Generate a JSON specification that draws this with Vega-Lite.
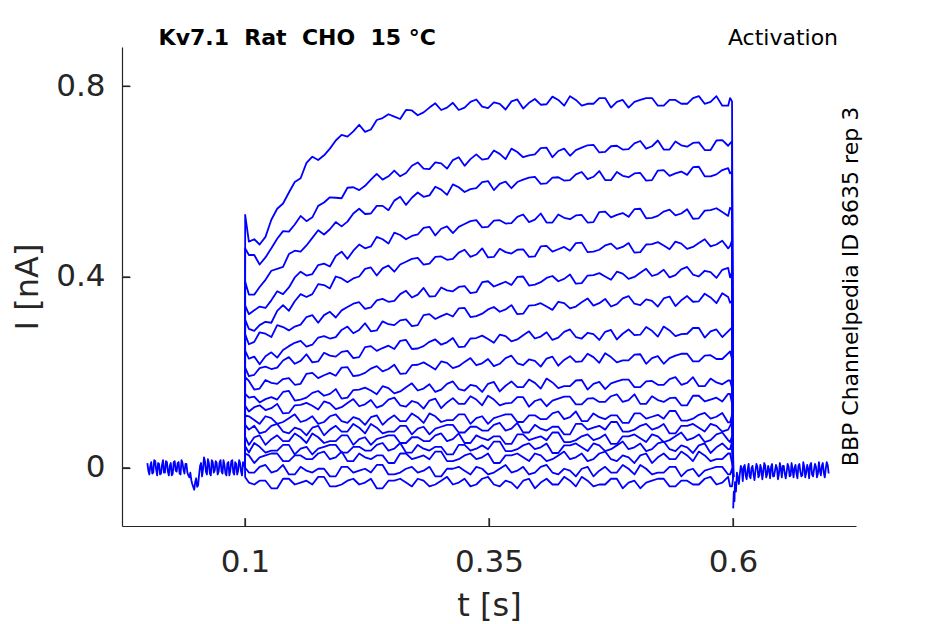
{
  "$schema": "https://vega.github.io/schema/vega-lite/v6.json",
  "description": "Kv7.1 activation current traces",
  "width": 734,
  "height": 479,
  "autosize": {"type": "none"},
  "padding": {"left": 122, "top": 47, "right": 89, "bottom": 98},
  "background": "white",
  "encoding": {
    "x": {
      "field": "t", "type": "quantitative",
      "scale": {"domain": [-0.026, 0.726], "nice": false, "zero": false},
      "axis": {"values": [0.1, 0.35, 0.6], "labelExpr": "'' + datum.value", "title": "t [s]", "labelPadding": 29, "titleBaseline": "alphabetic", "titleY": 89}
    },
    "y": {
      "field": "i", "type": "quantitative",
      "scale": {"domain": [-0.122, 0.882], "nice": false, "zero": false},
      "axis": {"values": [0, 0.4, 0.8], "labelExpr": "'' + datum.value", "title": "I [nA]", "labelPadding": 25, "titleBaseline": "alphabetic", "titleX": -85}
    }
  },
  "layer": [
    {
      "data": {"values": [
        {"s":0,"t":0.000,"i":0.010},{"s":0,"t":0.002,"i":-0.014},{"s":0,"t":0.004,"i":0.012},{"s":0,"t":0.006,"i":-0.010},{"s":0,"t":0.008,"i":0.014},{"s":0,"t":0.010,"i":-0.016},{"s":0,"t":0.012,"i":0.008},{"s":0,"t":0.014,"i":-0.012},{"s":0,"t":0.016,"i":0.016},{"s":0,"t":0.018,"i":-0.010},{"s":0,"t":0.020,"i":0.012},{"s":0,"t":0.022,"i":-0.016},{"s":0,"t":0.024,"i":0.010},{"s":0,"t":0.026,"i":-0.012},{"s":0,"t":0.028,"i":0.014},{"s":0,"t":0.030,"i":-0.008},{"s":0,"t":0.032,"i":0.012},{"s":0,"t":0.034,"i":-0.014},{"s":0,"t":0.036,"i":0.010},{"s":0,"t":0.038,"i":-0.012},{"s":0,"t":0.040,"i":0.008},{"s":0,"t":0.042,"i":-0.016},{"s":0,"t":0.044,"i":-0.010},{"s":0,"t":0.046,"i":-0.034},{"s":0,"t":0.048,"i":-0.046},{"s":0,"t":0.050,"i":-0.022},{"s":0,"t":0.052,"i":-0.036},{"s":0,"t":0.054,"i":0.004},{"s":0,"t":0.056,"i":-0.018},{"s":0,"t":0.058,"i":0.022},{"s":0,"t":0.060,"i":-0.008},{"s":0,"t":0.062,"i":0.018},{"s":0,"t":0.064,"i":-0.012},{"s":0,"t":0.066,"i":0.016},{"s":0,"t":0.068,"i":-0.010},{"s":0,"t":0.070,"i":0.014},{"s":0,"t":0.072,"i":-0.014},{"s":0,"t":0.074,"i":0.012},{"s":0,"t":0.076,"i":-0.008},{"s":0,"t":0.078,"i":0.016},{"s":0,"t":0.080,"i":-0.012},{"s":0,"t":0.082,"i":0.010},{"s":0,"t":0.084,"i":-0.016},{"s":0,"t":0.086,"i":0.014},{"s":0,"t":0.088,"i":-0.010},{"s":0,"t":0.090,"i":0.012},{"s":0,"t":0.092,"i":-0.014},{"s":0,"t":0.094,"i":0.016},{"s":0,"t":0.096,"i":-0.008},{"s":0,"t":0.098,"i":0.012},{"s":0,"t":0.100,"i":0.000},
        {"s":0,"t":0.001,"i":-0.006},{"s":0,"t":0.003,"i":0.004},{"s":0,"t":0.005,"i":-0.012},{"s":0,"t":0.007,"i":0.016},{"s":0,"t":0.009,"i":-0.004},{"s":0,"t":0.011,"i":0.010},{"s":0,"t":0.013,"i":-0.014},{"s":0,"t":0.015,"i":0.006},{"s":0,"t":0.017,"i":-0.010},{"s":0,"t":0.019,"i":0.014},{"s":0,"t":0.021,"i":-0.008},{"s":0,"t":0.023,"i":0.004},{"s":0,"t":0.025,"i":-0.016},{"s":0,"t":0.027,"i":0.012},{"s":0,"t":0.029,"i":-0.006},{"s":0,"t":0.031,"i":0.010},{"s":0,"t":0.033,"i":-0.012},{"s":0,"t":0.035,"i":0.016},{"s":0,"t":0.037,"i":-0.004},{"s":0,"t":0.039,"i":0.008},{"s":0,"t":0.041,"i":-0.010},{"s":0,"t":0.043,"i":-0.020},{"s":0,"t":0.045,"i":-0.026},{"s":0,"t":0.047,"i":-0.040},{"s":0,"t":0.049,"i":-0.030},{"s":0,"t":0.051,"i":-0.040},{"s":0,"t":0.053,"i":-0.014},{"s":0,"t":0.055,"i":0.010},{"s":0,"t":0.057,"i":-0.004},{"s":0,"t":0.059,"i":0.014},{"s":0,"t":0.061,"i":-0.014},{"s":0,"t":0.063,"i":0.010},{"s":0,"t":0.065,"i":-0.016},{"s":0,"t":0.067,"i":0.012},{"s":0,"t":0.069,"i":-0.006},{"s":0,"t":0.071,"i":0.010},{"s":0,"t":0.073,"i":-0.008},{"s":0,"t":0.075,"i":0.016},{"s":0,"t":0.077,"i":-0.012},{"s":0,"t":0.079,"i":0.006},{"s":0,"t":0.081,"i":-0.016},{"s":0,"t":0.083,"i":0.012},{"s":0,"t":0.085,"i":-0.006},{"s":0,"t":0.087,"i":0.016},{"s":0,"t":0.089,"i":-0.014},{"s":0,"t":0.091,"i":0.008},{"s":0,"t":0.093,"i":-0.006},{"s":0,"t":0.095,"i":0.010},{"s":0,"t":0.097,"i":-0.016},{"s":0,"t":0.099,"i":0.008},

        {"s":1,"t":0.1,"i":0},{"s":1,"t":0.1002,"i":0.53},{"s":1,"t":0.104,"i":0.474},{"s":1,"t":0.115,"i":0.468},{"s":1,"t":0.127,"i":0.520},{"s":1,"t":0.139,"i":0.554},{"s":1,"t":0.151,"i":0.599},{"s":1,"t":0.163,"i":0.639},{"s":1,"t":0.175,"i":0.645},{"s":1,"t":0.187,"i":0.669},{"s":1,"t":0.199,"i":0.698},{"s":1,"t":0.211,"i":0.705},{"s":1,"t":0.223,"i":0.704},{"s":1,"t":0.235,"i":0.729},{"s":1,"t":0.247,"i":0.741},{"s":1,"t":0.259,"i":0.731},{"s":1,"t":0.271,"i":0.749},{"s":1,"t":0.283,"i":0.745},{"s":1,"t":0.295,"i":0.764},{"s":1,"t":0.307,"i":0.755},{"s":1,"t":0.319,"i":0.750},{"s":1,"t":0.331,"i":0.767},{"s":1,"t":0.343,"i":0.757},{"s":1,"t":0.355,"i":0.766},{"s":1,"t":0.367,"i":0.751},{"s":1,"t":0.379,"i":0.772},{"s":1,"t":0.391,"i":0.765},{"s":1,"t":0.403,"i":0.761},{"s":1,"t":0.415,"i":0.778},{"s":1,"t":0.427,"i":0.759},{"s":1,"t":0.439,"i":0.771},{"s":1,"t":0.451,"i":0.763},{"s":1,"t":0.463,"i":0.775},{"s":1,"t":0.475,"i":0.755},{"s":1,"t":0.487,"i":0.771},{"s":1,"t":0.499,"i":0.767},{"s":1,"t":0.511,"i":0.775},{"s":1,"t":0.523,"i":0.759},{"s":1,"t":0.535,"i":0.771},{"s":1,"t":0.547,"i":0.763},{"s":1,"t":0.559,"i":0.775},{"s":1,"t":0.571,"i":0.763},{"s":1,"t":0.583,"i":0.779},{"s":1,"t":0.595,"i":0.759},{"s":1,"t":0.599,"i":0.768},{"s":1,"t":0.6002,"i":-0.02},
        {"s":1,"t":0.1095,"i":0.479},{"s":1,"t":0.121,"i":0.484},{"s":1,"t":0.133,"i":0.543},{"s":1,"t":0.145,"i":0.577},{"s":1,"t":0.157,"i":0.607},{"s":1,"t":0.169,"i":0.652},{"s":1,"t":0.181,"i":0.655},{"s":1,"t":0.193,"i":0.686},{"s":1,"t":0.205,"i":0.694},{"s":1,"t":0.217,"i":0.719},{"s":1,"t":0.229,"i":0.709},{"s":1,"t":0.241,"i":0.733},{"s":1,"t":0.253,"i":0.736},{"s":1,"t":0.265,"i":0.750},{"s":1,"t":0.277,"i":0.739},{"s":1,"t":0.289,"i":0.755},{"s":1,"t":0.301,"i":0.750},{"s":1,"t":0.313,"i":0.765},{"s":1,"t":0.325,"i":0.755},{"s":1,"t":0.337,"i":0.772},{"s":1,"t":0.349,"i":0.754},{"s":1,"t":0.361,"i":0.763},{"s":1,"t":0.373,"i":0.768},{"s":1,"t":0.385,"i":0.753},{"s":1,"t":0.397,"i":0.773},{"s":1,"t":0.409,"i":0.762},{"s":1,"t":0.421,"i":0.771},{"s":1,"t":0.433,"i":0.779},{"s":1,"t":0.445,"i":0.759},{"s":1,"t":0.457,"i":0.763},{"s":1,"t":0.469,"i":0.775},{"s":1,"t":0.481,"i":0.767},{"s":1,"t":0.493,"i":0.755},{"s":1,"t":0.505,"i":0.771},{"s":1,"t":0.517,"i":0.775},{"s":1,"t":0.529,"i":0.759},{"s":1,"t":0.541,"i":0.771},{"s":1,"t":0.553,"i":0.763},{"s":1,"t":0.565,"i":0.779},{"s":1,"t":0.577,"i":0.767},{"s":1,"t":0.589,"i":0.759},{"s":1,"t":0.597,"i":0.775},

        {"s":2,"t":0.1,"i":0},{"s":2,"t":0.1002,"i":0.46},{"s":2,"t":0.104,"i":0.446},{"s":2,"t":0.115,"i":0.426},{"s":2,"t":0.127,"i":0.460},{"s":2,"t":0.139,"i":0.496},{"s":2,"t":0.151,"i":0.510},{"s":2,"t":0.163,"i":0.517},{"s":2,"t":0.175,"i":0.549},{"s":2,"t":0.187,"i":0.567},{"s":2,"t":0.199,"i":0.565},{"s":2,"t":0.211,"i":0.588},{"s":2,"t":0.223,"i":0.591},{"s":2,"t":0.235,"i":0.616},{"s":2,"t":0.247,"i":0.611},{"s":2,"t":0.259,"i":0.611},{"s":2,"t":0.271,"i":0.633},{"s":2,"t":0.283,"i":0.627},{"s":2,"t":0.295,"i":0.640},{"s":2,"t":0.307,"i":0.627},{"s":2,"t":0.319,"i":0.651},{"s":2,"t":0.331,"i":0.647},{"s":2,"t":0.343,"i":0.646},{"s":2,"t":0.355,"i":0.665},{"s":2,"t":0.367,"i":0.647},{"s":2,"t":0.379,"i":0.662},{"s":2,"t":0.391,"i":0.655},{"s":2,"t":0.403,"i":0.670},{"s":2,"t":0.415,"i":0.651},{"s":2,"t":0.427,"i":0.669},{"s":2,"t":0.439,"i":0.666},{"s":2,"t":0.451,"i":0.676},{"s":2,"t":0.463,"i":0.661},{"s":2,"t":0.475,"i":0.674},{"s":2,"t":0.487,"i":0.667},{"s":2,"t":0.499,"i":0.680},{"s":2,"t":0.511,"i":0.669},{"s":2,"t":0.523,"i":0.686},{"s":2,"t":0.535,"i":0.667},{"s":2,"t":0.547,"i":0.676},{"s":2,"t":0.559,"i":0.681},{"s":2,"t":0.571,"i":0.666},{"s":2,"t":0.583,"i":0.686},{"s":2,"t":0.595,"i":0.675},{"s":2,"t":0.599,"i":0.684},{"s":2,"t":0.6002,"i":-0.02},
        {"s":2,"t":0.1095,"i":0.446},{"s":2,"t":0.121,"i":0.441},{"s":2,"t":0.133,"i":0.480},{"s":2,"t":0.145,"i":0.495},{"s":2,"t":0.157,"i":0.528},{"s":2,"t":0.169,"i":0.525},{"s":2,"t":0.181,"i":0.556},{"s":2,"t":0.193,"i":0.566},{"s":2,"t":0.205,"i":0.587},{"s":2,"t":0.217,"i":0.582},{"s":2,"t":0.229,"i":0.604},{"s":2,"t":0.241,"i":0.604},{"s":2,"t":0.253,"i":0.623},{"s":2,"t":0.265,"i":0.618},{"s":2,"t":0.277,"i":0.640},{"s":2,"t":0.289,"i":0.626},{"s":2,"t":0.301,"i":0.638},{"s":2,"t":0.313,"i":0.645},{"s":2,"t":0.325,"i":0.633},{"s":2,"t":0.337,"i":0.657},{"s":2,"t":0.349,"i":0.648},{"s":2,"t":0.361,"i":0.658},{"s":2,"t":0.373,"i":0.669},{"s":2,"t":0.385,"i":0.651},{"s":2,"t":0.397,"i":0.657},{"s":2,"t":0.409,"i":0.671},{"s":2,"t":0.421,"i":0.664},{"s":2,"t":0.433,"i":0.654},{"s":2,"t":0.445,"i":0.671},{"s":2,"t":0.457,"i":0.677},{"s":2,"t":0.469,"i":0.662},{"s":2,"t":0.481,"i":0.675},{"s":2,"t":0.493,"i":0.668},{"s":2,"t":0.505,"i":0.685},{"s":2,"t":0.517,"i":0.674},{"s":2,"t":0.529,"i":0.667},{"s":2,"t":0.541,"i":0.684},{"s":2,"t":0.553,"i":0.673},{"s":2,"t":0.565,"i":0.682},{"s":2,"t":0.577,"i":0.666},{"s":2,"t":0.589,"i":0.687},{"s":2,"t":0.597,"i":0.680},

        {"s":3,"t":0.1,"i":0},{"s":3,"t":0.1002,"i":0.39},{"s":3,"t":0.104,"i":0.363},{"s":3,"t":0.115,"i":0.379},{"s":3,"t":0.127,"i":0.413},{"s":3,"t":0.139,"i":0.421},{"s":3,"t":0.151,"i":0.455},{"s":3,"t":0.163,"i":0.466},{"s":3,"t":0.175,"i":0.498},{"s":3,"t":0.187,"i":0.500},{"s":3,"t":0.199,"i":0.506},{"s":3,"t":0.211,"i":0.533},{"s":3,"t":0.223,"i":0.532},{"s":3,"t":0.235,"i":0.549},{"s":3,"t":0.247,"i":0.540},{"s":3,"t":0.259,"i":0.568},{"s":3,"t":0.271,"i":0.566},{"s":3,"t":0.283,"i":0.568},{"s":3,"t":0.295,"i":0.589},{"s":3,"t":0.307,"i":0.572},{"s":3,"t":0.319,"i":0.588},{"s":3,"t":0.331,"i":0.584},{"s":3,"t":0.343,"i":0.599},{"s":3,"t":0.355,"i":0.582},{"s":3,"t":0.367,"i":0.600},{"s":3,"t":0.379,"i":0.599},{"s":3,"t":0.391,"i":0.608},{"s":3,"t":0.403,"i":0.595},{"s":3,"t":0.415,"i":0.608},{"s":3,"t":0.427,"i":0.602},{"s":3,"t":0.439,"i":0.615},{"s":3,"t":0.451,"i":0.605},{"s":3,"t":0.463,"i":0.622},{"s":3,"t":0.475,"i":0.603},{"s":3,"t":0.487,"i":0.612},{"s":3,"t":0.499,"i":0.617},{"s":3,"t":0.511,"i":0.602},{"s":3,"t":0.523,"i":0.623},{"s":3,"t":0.535,"i":0.612},{"s":3,"t":0.547,"i":0.621},{"s":3,"t":0.559,"i":0.630},{"s":3,"t":0.571,"i":0.611},{"s":3,"t":0.583,"i":0.615},{"s":3,"t":0.595,"i":0.628},{"s":3,"t":0.599,"i":0.621},{"s":3,"t":0.6002,"i":-0.02},
        {"s":3,"t":0.1095,"i":0.363},{"s":3,"t":0.121,"i":0.394},{"s":3,"t":0.133,"i":0.417},{"s":3,"t":0.145,"i":0.448},{"s":3,"t":0.157,"i":0.453},{"s":3,"t":0.169,"i":0.482},{"s":3,"t":0.181,"i":0.489},{"s":3,"t":0.193,"i":0.515},{"s":3,"t":0.205,"i":0.516},{"s":3,"t":0.217,"i":0.543},{"s":3,"t":0.229,"i":0.533},{"s":3,"t":0.241,"i":0.549},{"s":3,"t":0.253,"i":0.560},{"s":3,"t":0.265,"i":0.551},{"s":3,"t":0.277,"i":0.577},{"s":3,"t":0.289,"i":0.571},{"s":3,"t":0.301,"i":0.583},{"s":3,"t":0.313,"i":0.594},{"s":3,"t":0.325,"i":0.578},{"s":3,"t":0.337,"i":0.586},{"s":3,"t":0.349,"i":0.601},{"s":3,"t":0.361,"i":0.595},{"s":3,"t":0.373,"i":0.586},{"s":3,"t":0.385,"i":0.604},{"s":3,"t":0.397,"i":0.610},{"s":3,"t":0.409,"i":0.596},{"s":3,"t":0.421,"i":0.609},{"s":3,"t":0.433,"i":0.603},{"s":3,"t":0.445,"i":0.620},{"s":3,"t":0.457,"i":0.610},{"s":3,"t":0.469,"i":0.603},{"s":3,"t":0.481,"i":0.620},{"s":3,"t":0.493,"i":0.609},{"s":3,"t":0.505,"i":0.618},{"s":3,"t":0.517,"i":0.603},{"s":3,"t":0.529,"i":0.624},{"s":3,"t":0.541,"i":0.617},{"s":3,"t":0.553,"i":0.614},{"s":3,"t":0.565,"i":0.631},{"s":3,"t":0.577,"i":0.611},{"s":3,"t":0.589,"i":0.624},{"s":3,"t":0.597,"i":0.617},

        {"s":4,"t":0.1,"i":0},{"s":4,"t":0.1002,"i":0.34},{"s":4,"t":0.104,"i":0.322},{"s":4,"t":0.115,"i":0.338},{"s":4,"t":0.127,"i":0.351},{"s":4,"t":0.139,"i":0.364},{"s":4,"t":0.151,"i":0.399},{"s":4,"t":0.163,"i":0.403},{"s":4,"t":0.175,"i":0.425},{"s":4,"t":0.187,"i":0.422},{"s":4,"t":0.199,"i":0.453},{"s":4,"t":0.211,"i":0.455},{"s":4,"t":0.223,"i":0.460},{"s":4,"t":0.235,"i":0.484},{"s":4,"t":0.247,"i":0.470},{"s":4,"t":0.259,"i":0.488},{"s":4,"t":0.271,"i":0.486},{"s":4,"t":0.283,"i":0.503},{"s":4,"t":0.295,"i":0.487},{"s":4,"t":0.307,"i":0.506},{"s":4,"t":0.319,"i":0.505},{"s":4,"t":0.331,"i":0.517},{"s":4,"t":0.343,"i":0.504},{"s":4,"t":0.355,"i":0.518},{"s":4,"t":0.367,"i":0.512},{"s":4,"t":0.379,"i":0.526},{"s":4,"t":0.391,"i":0.515},{"s":4,"t":0.403,"i":0.533},{"s":4,"t":0.415,"i":0.514},{"s":4,"t":0.427,"i":0.524},{"s":4,"t":0.439,"i":0.529},{"s":4,"t":0.451,"i":0.514},{"s":4,"t":0.463,"i":0.536},{"s":4,"t":0.475,"i":0.525},{"s":4,"t":0.487,"i":0.534},{"s":4,"t":0.499,"i":0.542},{"s":4,"t":0.511,"i":0.523},{"s":4,"t":0.523,"i":0.528},{"s":4,"t":0.535,"i":0.541},{"s":4,"t":0.547,"i":0.533},{"s":4,"t":0.559,"i":0.522},{"s":4,"t":0.571,"i":0.539},{"s":4,"t":0.583,"i":0.544},{"s":4,"t":0.595,"i":0.528},{"s":4,"t":0.599,"i":0.541},{"s":4,"t":0.6002,"i":-0.02},
        {"s":4,"t":0.1095,"i":0.330},{"s":4,"t":0.121,"i":0.335},{"s":4,"t":0.133,"i":0.370},{"s":4,"t":0.145,"i":0.378},{"s":4,"t":0.157,"i":0.411},{"s":4,"t":0.169,"i":0.406},{"s":4,"t":0.181,"i":0.428},{"s":4,"t":0.193,"i":0.444},{"s":4,"t":0.205,"i":0.438},{"s":4,"t":0.217,"i":0.468},{"s":4,"t":0.229,"i":0.464},{"s":4,"t":0.241,"i":0.479},{"s":4,"t":0.253,"i":0.493},{"s":4,"t":0.265,"i":0.479},{"s":4,"t":0.277,"i":0.489},{"s":4,"t":0.289,"i":0.505},{"s":4,"t":0.301,"i":0.501},{"s":4,"t":0.313,"i":0.492},{"s":4,"t":0.325,"i":0.511},{"s":4,"t":0.337,"i":0.519},{"s":4,"t":0.349,"i":0.505},{"s":4,"t":0.361,"i":0.519},{"s":4,"t":0.373,"i":0.513},{"s":4,"t":0.385,"i":0.531},{"s":4,"t":0.397,"i":0.520},{"s":4,"t":0.409,"i":0.514},{"s":4,"t":0.421,"i":0.531},{"s":4,"t":0.433,"i":0.521},{"s":4,"t":0.445,"i":0.530},{"s":4,"t":0.457,"i":0.515},{"s":4,"t":0.469,"i":0.537},{"s":4,"t":0.481,"i":0.530},{"s":4,"t":0.493,"i":0.526},{"s":4,"t":0.505,"i":0.543},{"s":4,"t":0.517,"i":0.524},{"s":4,"t":0.529,"i":0.537},{"s":4,"t":0.541,"i":0.529},{"s":4,"t":0.553,"i":0.542},{"s":4,"t":0.565,"i":0.523},{"s":4,"t":0.577,"i":0.540},{"s":4,"t":0.589,"i":0.536},{"s":4,"t":0.597,"i":0.545},

        {"s":5,"t":0.1,"i":0},{"s":5,"t":0.1002,"i":0.31},{"s":5,"t":0.104,"i":0.291},{"s":5,"t":0.115,"i":0.299},{"s":5,"t":0.127,"i":0.304},{"s":5,"t":0.139,"i":0.341},{"s":5,"t":0.151,"i":0.349},{"s":5,"t":0.163,"i":0.358},{"s":5,"t":0.175,"i":0.385},{"s":5,"t":0.187,"i":0.376},{"s":5,"t":0.199,"i":0.397},{"s":5,"t":0.211,"i":0.397},{"s":5,"t":0.223,"i":0.417},{"s":5,"t":0.235,"i":0.403},{"s":5,"t":0.247,"i":0.424},{"s":5,"t":0.259,"i":0.426},{"s":5,"t":0.271,"i":0.438},{"s":5,"t":0.283,"i":0.426},{"s":5,"t":0.295,"i":0.442},{"s":5,"t":0.307,"i":0.436},{"s":5,"t":0.319,"i":0.451},{"s":5,"t":0.331,"i":0.442},{"s":5,"t":0.343,"i":0.460},{"s":5,"t":0.355,"i":0.442},{"s":5,"t":0.367,"i":0.452},{"s":5,"t":0.379,"i":0.457},{"s":5,"t":0.391,"i":0.442},{"s":5,"t":0.403,"i":0.464},{"s":5,"t":0.415,"i":0.453},{"s":5,"t":0.427,"i":0.463},{"s":5,"t":0.439,"i":0.471},{"s":5,"t":0.451,"i":0.452},{"s":5,"t":0.463,"i":0.457},{"s":5,"t":0.475,"i":0.470},{"s":5,"t":0.487,"i":0.463},{"s":5,"t":0.499,"i":0.451},{"s":5,"t":0.511,"i":0.468},{"s":5,"t":0.523,"i":0.473},{"s":5,"t":0.535,"i":0.458},{"s":5,"t":0.547,"i":0.470},{"s":5,"t":0.559,"i":0.463},{"s":5,"t":0.571,"i":0.479},{"s":5,"t":0.583,"i":0.468},{"s":5,"t":0.595,"i":0.460},{"s":5,"t":0.599,"i":0.477},{"s":5,"t":0.6002,"i":-0.02},
        {"s":5,"t":0.1095,"i":0.287},{"s":5,"t":0.121,"i":0.306},{"s":5,"t":0.133,"i":0.329},{"s":5,"t":0.145,"i":0.329},{"s":5,"t":0.157,"i":0.364},{"s":5,"t":0.169,"i":0.364},{"s":5,"t":0.181,"i":0.383},{"s":5,"t":0.193,"i":0.401},{"s":5,"t":0.205,"i":0.389},{"s":5,"t":0.217,"i":0.401},{"s":5,"t":0.229,"i":0.420},{"s":5,"t":0.241,"i":0.418},{"s":5,"t":0.253,"i":0.411},{"s":5,"t":0.265,"i":0.432},{"s":5,"t":0.277,"i":0.440},{"s":5,"t":0.289,"i":0.428},{"s":5,"t":0.301,"i":0.443},{"s":5,"t":0.313,"i":0.438},{"s":5,"t":0.325,"i":0.457},{"s":5,"t":0.337,"i":0.447},{"s":5,"t":0.349,"i":0.441},{"s":5,"t":0.361,"i":0.459},{"s":5,"t":0.373,"i":0.449},{"s":5,"t":0.385,"i":0.458},{"s":5,"t":0.397,"i":0.443},{"s":5,"t":0.409,"i":0.465},{"s":5,"t":0.421,"i":0.458},{"s":5,"t":0.433,"i":0.455},{"s":5,"t":0.445,"i":0.472},{"s":5,"t":0.457,"i":0.453},{"s":5,"t":0.469,"i":0.466},{"s":5,"t":0.481,"i":0.459},{"s":5,"t":0.493,"i":0.471},{"s":5,"t":0.505,"i":0.452},{"s":5,"t":0.517,"i":0.469},{"s":5,"t":0.529,"i":0.466},{"s":5,"t":0.541,"i":0.474},{"s":5,"t":0.553,"i":0.459},{"s":5,"t":0.565,"i":0.471},{"s":5,"t":0.577,"i":0.464},{"s":5,"t":0.589,"i":0.476},{"s":5,"t":0.597,"i":0.465},

        {"s":6,"t":0.1,"i":0},{"s":6,"t":0.1002,"i":0.28},{"s":6,"t":0.104,"i":0.259},{"s":6,"t":0.115,"i":0.284},{"s":6,"t":0.127,"i":0.274},{"s":6,"t":0.139,"i":0.295},{"s":6,"t":0.151,"i":0.296},{"s":6,"t":0.163,"i":0.316},{"s":6,"t":0.175,"i":0.304},{"s":6,"t":0.187,"i":0.327},{"s":6,"t":0.199,"i":0.330},{"s":6,"t":0.211,"i":0.344},{"s":6,"t":0.223,"i":0.333},{"s":6,"t":0.235,"i":0.351},{"s":6,"t":0.247,"i":0.348},{"s":6,"t":0.259,"i":0.364},{"s":6,"t":0.271,"i":0.357},{"s":6,"t":0.283,"i":0.377},{"s":6,"t":0.295,"i":0.360},{"s":6,"t":0.307,"i":0.372},{"s":6,"t":0.319,"i":0.379},{"s":6,"t":0.331,"i":0.366},{"s":6,"t":0.343,"i":0.389},{"s":6,"t":0.355,"i":0.380},{"s":6,"t":0.367,"i":0.390},{"s":6,"t":0.379,"i":0.400},{"s":6,"t":0.391,"i":0.382},{"s":6,"t":0.403,"i":0.389},{"s":6,"t":0.415,"i":0.402},{"s":6,"t":0.427,"i":0.396},{"s":6,"t":0.439,"i":0.386},{"s":6,"t":0.451,"i":0.403},{"s":6,"t":0.463,"i":0.408},{"s":6,"t":0.475,"i":0.394},{"s":6,"t":0.487,"i":0.407},{"s":6,"t":0.499,"i":0.400},{"s":6,"t":0.511,"i":0.417},{"s":6,"t":0.523,"i":0.406},{"s":6,"t":0.535,"i":0.399},{"s":6,"t":0.547,"i":0.416},{"s":6,"t":0.559,"i":0.405},{"s":6,"t":0.571,"i":0.413},{"s":6,"t":0.583,"i":0.398},{"s":6,"t":0.595,"i":0.419},{"s":6,"t":0.599,"i":0.411},{"s":6,"t":0.6002,"i":-0.02},
        {"s":6,"t":0.1095,"i":0.264},{"s":6,"t":0.121,"i":0.281},{"s":6,"t":0.133,"i":0.299},{"s":6,"t":0.145,"i":0.288},{"s":6,"t":0.157,"i":0.300},{"s":6,"t":0.169,"i":0.320},{"s":6,"t":0.181,"i":0.320},{"s":6,"t":0.193,"i":0.315},{"s":6,"t":0.205,"i":0.337},{"s":6,"t":0.217,"i":0.347},{"s":6,"t":0.229,"i":0.336},{"s":6,"t":0.241,"i":0.354},{"s":6,"t":0.253,"i":0.350},{"s":6,"t":0.265,"i":0.371},{"s":6,"t":0.277,"i":0.363},{"s":6,"t":0.289,"i":0.359},{"s":6,"t":0.301,"i":0.378},{"s":6,"t":0.313,"i":0.370},{"s":6,"t":0.325,"i":0.381},{"s":6,"t":0.337,"i":0.368},{"s":6,"t":0.349,"i":0.391},{"s":6,"t":0.361,"i":0.385},{"s":6,"t":0.373,"i":0.383},{"s":6,"t":0.385,"i":0.401},{"s":6,"t":0.397,"i":0.384},{"s":6,"t":0.409,"i":0.398},{"s":6,"t":0.421,"i":0.391},{"s":6,"t":0.433,"i":0.405},{"s":6,"t":0.445,"i":0.387},{"s":6,"t":0.457,"i":0.404},{"s":6,"t":0.469,"i":0.401},{"s":6,"t":0.481,"i":0.411},{"s":6,"t":0.493,"i":0.396},{"s":6,"t":0.505,"i":0.409},{"s":6,"t":0.517,"i":0.402},{"s":6,"t":0.529,"i":0.415},{"s":6,"t":0.541,"i":0.404},{"s":6,"t":0.553,"i":0.421},{"s":6,"t":0.565,"i":0.401},{"s":6,"t":0.577,"i":0.410},{"s":6,"t":0.589,"i":0.415},{"s":6,"t":0.597,"i":0.399},

        {"s":7,"t":0.1,"i":0},{"s":7,"t":0.1002,"i":0.245},{"s":7,"t":0.104,"i":0.229},{"s":7,"t":0.115,"i":0.217},{"s":7,"t":0.127,"i":0.242},{"s":7,"t":0.139,"i":0.247},{"s":7,"t":0.151,"i":0.262},{"s":7,"t":0.163,"i":0.254},{"s":7,"t":0.175,"i":0.273},{"s":7,"t":0.187,"i":0.271},{"s":7,"t":0.199,"i":0.289},{"s":7,"t":0.211,"i":0.282},{"s":7,"t":0.223,"i":0.303},{"s":7,"t":0.235,"i":0.288},{"s":7,"t":0.247,"i":0.301},{"s":7,"t":0.259,"i":0.309},{"s":7,"t":0.271,"i":0.297},{"s":7,"t":0.283,"i":0.320},{"s":7,"t":0.295,"i":0.312},{"s":7,"t":0.307,"i":0.323},{"s":7,"t":0.319,"i":0.334},{"s":7,"t":0.331,"i":0.316},{"s":7,"t":0.343,"i":0.323},{"s":7,"t":0.355,"i":0.337},{"s":7,"t":0.367,"i":0.332},{"s":7,"t":0.379,"i":0.322},{"s":7,"t":0.391,"i":0.340},{"s":7,"t":0.403,"i":0.345},{"s":7,"t":0.415,"i":0.331},{"s":7,"t":0.427,"i":0.345},{"s":7,"t":0.439,"i":0.338},{"s":7,"t":0.451,"i":0.355},{"s":7,"t":0.463,"i":0.345},{"s":7,"t":0.475,"i":0.338},{"s":7,"t":0.487,"i":0.355},{"s":7,"t":0.499,"i":0.344},{"s":7,"t":0.511,"i":0.353},{"s":7,"t":0.523,"i":0.338},{"s":7,"t":0.535,"i":0.359},{"s":7,"t":0.547,"i":0.351},{"s":7,"t":0.559,"i":0.348},{"s":7,"t":0.571,"i":0.365},{"s":7,"t":0.583,"i":0.345},{"s":7,"t":0.595,"i":0.358},{"s":7,"t":0.599,"i":0.350},{"s":7,"t":0.6002,"i":-0.02},
        {"s":7,"t":0.1095,"i":0.233},{"s":7,"t":0.121,"i":0.234},{"s":7,"t":0.133,"i":0.231},{"s":7,"t":0.145,"i":0.255},{"s":7,"t":0.157,"i":0.266},{"s":7,"t":0.169,"i":0.258},{"s":7,"t":0.181,"i":0.276},{"s":7,"t":0.193,"i":0.274},{"s":7,"t":0.205,"i":0.296},{"s":7,"t":0.217,"i":0.289},{"s":7,"t":0.229,"i":0.286},{"s":7,"t":0.241,"i":0.307},{"s":7,"t":0.253,"i":0.299},{"s":7,"t":0.265,"i":0.311},{"s":7,"t":0.277,"i":0.299},{"s":7,"t":0.289,"i":0.322},{"s":7,"t":0.301,"i":0.318},{"s":7,"t":0.313,"i":0.317},{"s":7,"t":0.325,"i":0.335},{"s":7,"t":0.337,"i":0.318},{"s":7,"t":0.349,"i":0.332},{"s":7,"t":0.361,"i":0.327},{"s":7,"t":0.373,"i":0.341},{"s":7,"t":0.385,"i":0.323},{"s":7,"t":0.397,"i":0.341},{"s":7,"t":0.409,"i":0.338},{"s":7,"t":0.421,"i":0.348},{"s":7,"t":0.433,"i":0.334},{"s":7,"t":0.445,"i":0.347},{"s":7,"t":0.457,"i":0.340},{"s":7,"t":0.469,"i":0.354},{"s":7,"t":0.481,"i":0.343},{"s":7,"t":0.493,"i":0.360},{"s":7,"t":0.505,"i":0.341},{"s":7,"t":0.517,"i":0.350},{"s":7,"t":0.529,"i":0.355},{"s":7,"t":0.541,"i":0.339},{"s":7,"t":0.553,"i":0.360},{"s":7,"t":0.565,"i":0.349},{"s":7,"t":0.577,"i":0.357},{"s":7,"t":0.589,"i":0.366},{"s":7,"t":0.597,"i":0.346},

        {"s":8,"t":0.1,"i":0},{"s":8,"t":0.1002,"i":0.21},{"s":8,"t":0.104,"i":0.192},{"s":8,"t":0.115,"i":0.209},{"s":8,"t":0.127,"i":0.207},{"s":8,"t":0.139,"i":0.225},{"s":8,"t":0.151,"i":0.218},{"s":8,"t":0.163,"i":0.238},{"s":8,"t":0.175,"i":0.223},{"s":8,"t":0.187,"i":0.235},{"s":8,"t":0.199,"i":0.243},{"s":8,"t":0.211,"i":0.230},{"s":8,"t":0.223,"i":0.253},{"s":8,"t":0.235,"i":0.245},{"s":8,"t":0.247,"i":0.256},{"s":8,"t":0.259,"i":0.266},{"s":8,"t":0.271,"i":0.249},{"s":8,"t":0.283,"i":0.255},{"s":8,"t":0.295,"i":0.269},{"s":8,"t":0.307,"i":0.263},{"s":8,"t":0.319,"i":0.253},{"s":8,"t":0.331,"i":0.271},{"s":8,"t":0.343,"i":0.277},{"s":8,"t":0.355,"i":0.262},{"s":8,"t":0.367,"i":0.276},{"s":8,"t":0.379,"i":0.269},{"s":8,"t":0.391,"i":0.286},{"s":8,"t":0.403,"i":0.275},{"s":8,"t":0.415,"i":0.268},{"s":8,"t":0.427,"i":0.285},{"s":8,"t":0.439,"i":0.274},{"s":8,"t":0.451,"i":0.283},{"s":8,"t":0.463,"i":0.268},{"s":8,"t":0.475,"i":0.289},{"s":8,"t":0.487,"i":0.281},{"s":8,"t":0.499,"i":0.278},{"s":8,"t":0.511,"i":0.295},{"s":8,"t":0.523,"i":0.275},{"s":8,"t":0.535,"i":0.288},{"s":8,"t":0.547,"i":0.280},{"s":8,"t":0.559,"i":0.293},{"s":8,"t":0.571,"i":0.273},{"s":8,"t":0.583,"i":0.290},{"s":8,"t":0.595,"i":0.286},{"s":8,"t":0.599,"i":0.294},{"s":8,"t":0.6002,"i":-0.02},
        {"s":8,"t":0.1095,"i":0.195},{"s":8,"t":0.121,"i":0.212},{"s":8,"t":0.133,"i":0.210},{"s":8,"t":0.145,"i":0.232},{"s":8,"t":0.157,"i":0.224},{"s":8,"t":0.169,"i":0.221},{"s":8,"t":0.181,"i":0.241},{"s":8,"t":0.193,"i":0.233},{"s":8,"t":0.205,"i":0.245},{"s":8,"t":0.217,"i":0.232},{"s":8,"t":0.229,"i":0.255},{"s":8,"t":0.241,"i":0.251},{"s":8,"t":0.253,"i":0.249},{"s":8,"t":0.265,"i":0.268},{"s":8,"t":0.277,"i":0.250},{"s":8,"t":0.289,"i":0.264},{"s":8,"t":0.301,"i":0.258},{"s":8,"t":0.313,"i":0.272},{"s":8,"t":0.325,"i":0.254},{"s":8,"t":0.337,"i":0.272},{"s":8,"t":0.349,"i":0.270},{"s":8,"t":0.361,"i":0.279},{"s":8,"t":0.373,"i":0.265},{"s":8,"t":0.385,"i":0.278},{"s":8,"t":0.397,"i":0.271},{"s":8,"t":0.409,"i":0.284},{"s":8,"t":0.421,"i":0.273},{"s":8,"t":0.433,"i":0.290},{"s":8,"t":0.445,"i":0.271},{"s":8,"t":0.457,"i":0.280},{"s":8,"t":0.469,"i":0.285},{"s":8,"t":0.481,"i":0.269},{"s":8,"t":0.493,"i":0.290},{"s":8,"t":0.505,"i":0.279},{"s":8,"t":0.517,"i":0.287},{"s":8,"t":0.529,"i":0.296},{"s":8,"t":0.541,"i":0.276},{"s":8,"t":0.553,"i":0.281},{"s":8,"t":0.565,"i":0.293},{"s":8,"t":0.577,"i":0.286},{"s":8,"t":0.589,"i":0.274},{"s":8,"t":0.597,"i":0.290},

        {"s":9,"t":0.1,"i":0},{"s":9,"t":0.1002,"i":0.19},{"s":9,"t":0.104,"i":0.182},{"s":9,"t":0.115,"i":0.166},{"s":9,"t":0.127,"i":0.178},{"s":9,"t":0.139,"i":0.186},{"s":9,"t":0.151,"i":0.174},{"s":9,"t":0.163,"i":0.197},{"s":9,"t":0.175,"i":0.188},{"s":9,"t":0.187,"i":0.199},{"s":9,"t":0.199,"i":0.210},{"s":9,"t":0.211,"i":0.192},{"s":9,"t":0.223,"i":0.199},{"s":9,"t":0.235,"i":0.213},{"s":9,"t":0.247,"i":0.207},{"s":9,"t":0.259,"i":0.197},{"s":9,"t":0.271,"i":0.215},{"s":9,"t":0.283,"i":0.221},{"s":9,"t":0.295,"i":0.206},{"s":9,"t":0.307,"i":0.220},{"s":9,"t":0.319,"i":0.213},{"s":9,"t":0.331,"i":0.230},{"s":9,"t":0.343,"i":0.219},{"s":9,"t":0.355,"i":0.213},{"s":9,"t":0.367,"i":0.230},{"s":9,"t":0.379,"i":0.219},{"s":9,"t":0.391,"i":0.227},{"s":9,"t":0.403,"i":0.212},{"s":9,"t":0.415,"i":0.233},{"s":9,"t":0.427,"i":0.226},{"s":9,"t":0.439,"i":0.222},{"s":9,"t":0.451,"i":0.239},{"s":9,"t":0.463,"i":0.220},{"s":9,"t":0.475,"i":0.232},{"s":9,"t":0.487,"i":0.225},{"s":9,"t":0.499,"i":0.237},{"s":9,"t":0.511,"i":0.218},{"s":9,"t":0.523,"i":0.234},{"s":9,"t":0.535,"i":0.230},{"s":9,"t":0.547,"i":0.239},{"s":9,"t":0.559,"i":0.223},{"s":9,"t":0.571,"i":0.235},{"s":9,"t":0.583,"i":0.228},{"s":9,"t":0.595,"i":0.240},{"s":9,"t":0.599,"i":0.228},{"s":9,"t":0.6002,"i":-0.02},
        {"s":9,"t":0.1095,"i":0.164},{"s":9,"t":0.121,"i":0.184},{"s":9,"t":0.133,"i":0.176},{"s":9,"t":0.145,"i":0.188},{"s":9,"t":0.157,"i":0.176},{"s":9,"t":0.169,"i":0.199},{"s":9,"t":0.181,"i":0.194},{"s":9,"t":0.193,"i":0.193},{"s":9,"t":0.205,"i":0.211},{"s":9,"t":0.217,"i":0.194},{"s":9,"t":0.229,"i":0.208},{"s":9,"t":0.241,"i":0.202},{"s":9,"t":0.253,"i":0.216},{"s":9,"t":0.265,"i":0.198},{"s":9,"t":0.277,"i":0.216},{"s":9,"t":0.289,"i":0.214},{"s":9,"t":0.301,"i":0.223},{"s":9,"t":0.313,"i":0.209},{"s":9,"t":0.325,"i":0.222},{"s":9,"t":0.337,"i":0.215},{"s":9,"t":0.349,"i":0.228},{"s":9,"t":0.361,"i":0.218},{"s":9,"t":0.373,"i":0.235},{"s":9,"t":0.385,"i":0.215},{"s":9,"t":0.397,"i":0.224},{"s":9,"t":0.409,"i":0.229},{"s":9,"t":0.421,"i":0.214},{"s":9,"t":0.433,"i":0.234},{"s":9,"t":0.445,"i":0.223},{"s":9,"t":0.457,"i":0.232},{"s":9,"t":0.469,"i":0.240},{"s":9,"t":0.481,"i":0.221},{"s":9,"t":0.493,"i":0.225},{"s":9,"t":0.505,"i":0.238},{"s":9,"t":0.517,"i":0.230},{"s":9,"t":0.529,"i":0.218},{"s":9,"t":0.541,"i":0.235},{"s":9,"t":0.553,"i":0.239},{"s":9,"t":0.565,"i":0.223},{"s":9,"t":0.577,"i":0.236},{"s":9,"t":0.589,"i":0.228},{"s":9,"t":0.597,"i":0.244},

        {"s":10,"t":0.1,"i":0},{"s":10,"t":0.1002,"i":0.155},{"s":10,"t":0.104,"i":0.147},{"s":10,"t":0.115,"i":0.137},{"s":10,"t":0.127,"i":0.148},{"s":10,"t":0.139,"i":0.159},{"s":10,"t":0.151,"i":0.141},{"s":10,"t":0.163,"i":0.147},{"s":10,"t":0.175,"i":0.161},{"s":10,"t":0.187,"i":0.155},{"s":10,"t":0.199,"i":0.145},{"s":10,"t":0.211,"i":0.163},{"s":10,"t":0.223,"i":0.168},{"s":10,"t":0.235,"i":0.154},{"s":10,"t":0.247,"i":0.167},{"s":10,"t":0.259,"i":0.160},{"s":10,"t":0.271,"i":0.177},{"s":10,"t":0.283,"i":0.166},{"s":10,"t":0.295,"i":0.159},{"s":10,"t":0.307,"i":0.176},{"s":10,"t":0.319,"i":0.165},{"s":10,"t":0.331,"i":0.174},{"s":10,"t":0.343,"i":0.159},{"s":10,"t":0.355,"i":0.180},{"s":10,"t":0.367,"i":0.172},{"s":10,"t":0.379,"i":0.169},{"s":10,"t":0.391,"i":0.185},{"s":10,"t":0.403,"i":0.166},{"s":10,"t":0.415,"i":0.179},{"s":10,"t":0.427,"i":0.171},{"s":10,"t":0.439,"i":0.183},{"s":10,"t":0.451,"i":0.164},{"s":10,"t":0.463,"i":0.180},{"s":10,"t":0.475,"i":0.177},{"s":10,"t":0.487,"i":0.185},{"s":10,"t":0.499,"i":0.169},{"s":10,"t":0.511,"i":0.181},{"s":10,"t":0.523,"i":0.174},{"s":10,"t":0.535,"i":0.186},{"s":10,"t":0.547,"i":0.174},{"s":10,"t":0.559,"i":0.190},{"s":10,"t":0.571,"i":0.171},{"s":10,"t":0.583,"i":0.179},{"s":10,"t":0.595,"i":0.183},{"s":10,"t":0.599,"i":0.167},{"s":10,"t":0.6002,"i":-0.02},
        {"s":10,"t":0.1095,"i":0.149},{"s":10,"t":0.121,"i":0.144},{"s":10,"t":0.133,"i":0.143},{"s":10,"t":0.145,"i":0.161},{"s":10,"t":0.157,"i":0.143},{"s":10,"t":0.169,"i":0.157},{"s":10,"t":0.181,"i":0.151},{"s":10,"t":0.193,"i":0.165},{"s":10,"t":0.205,"i":0.147},{"s":10,"t":0.217,"i":0.164},{"s":10,"t":0.229,"i":0.162},{"s":10,"t":0.241,"i":0.171},{"s":10,"t":0.253,"i":0.156},{"s":10,"t":0.265,"i":0.169},{"s":10,"t":0.277,"i":0.162},{"s":10,"t":0.289,"i":0.175},{"s":10,"t":0.301,"i":0.164},{"s":10,"t":0.313,"i":0.181},{"s":10,"t":0.325,"i":0.162},{"s":10,"t":0.337,"i":0.171},{"s":10,"t":0.349,"i":0.176},{"s":10,"t":0.361,"i":0.160},{"s":10,"t":0.373,"i":0.181},{"s":10,"t":0.385,"i":0.169},{"s":10,"t":0.397,"i":0.178},{"s":10,"t":0.409,"i":0.187},{"s":10,"t":0.421,"i":0.167},{"s":10,"t":0.433,"i":0.171},{"s":10,"t":0.445,"i":0.184},{"s":10,"t":0.457,"i":0.176},{"s":10,"t":0.469,"i":0.165},{"s":10,"t":0.481,"i":0.181},{"s":10,"t":0.493,"i":0.185},{"s":10,"t":0.505,"i":0.169},{"s":10,"t":0.517,"i":0.182},{"s":10,"t":0.529,"i":0.174},{"s":10,"t":0.541,"i":0.190},{"s":10,"t":0.553,"i":0.178},{"s":10,"t":0.565,"i":0.171},{"s":10,"t":0.577,"i":0.187},{"s":10,"t":0.589,"i":0.175},{"s":10,"t":0.597,"i":0.183},

        {"s":11,"t":0.1,"i":0},{"s":11,"t":0.1002,"i":0.13},{"s":11,"t":0.104,"i":0.118},{"s":11,"t":0.115,"i":0.131},{"s":11,"t":0.127,"i":0.125},{"s":11,"t":0.139,"i":0.114},{"s":11,"t":0.151,"i":0.131},{"s":11,"t":0.163,"i":0.136},{"s":11,"t":0.175,"i":0.122},{"s":11,"t":0.187,"i":0.135},{"s":11,"t":0.199,"i":0.127},{"s":11,"t":0.211,"i":0.144},{"s":11,"t":0.223,"i":0.133},{"s":11,"t":0.235,"i":0.126},{"s":11,"t":0.247,"i":0.143},{"s":11,"t":0.259,"i":0.131},{"s":11,"t":0.271,"i":0.140},{"s":11,"t":0.283,"i":0.124},{"s":11,"t":0.295,"i":0.145},{"s":11,"t":0.307,"i":0.137},{"s":11,"t":0.319,"i":0.134},{"s":11,"t":0.331,"i":0.150},{"s":11,"t":0.343,"i":0.131},{"s":11,"t":0.355,"i":0.143},{"s":11,"t":0.367,"i":0.135},{"s":11,"t":0.379,"i":0.148},{"s":11,"t":0.391,"i":0.128},{"s":11,"t":0.403,"i":0.144},{"s":11,"t":0.415,"i":0.141},{"s":11,"t":0.427,"i":0.149},{"s":11,"t":0.439,"i":0.133},{"s":11,"t":0.451,"i":0.145},{"s":11,"t":0.463,"i":0.138},{"s":11,"t":0.475,"i":0.150},{"s":11,"t":0.487,"i":0.138},{"s":11,"t":0.499,"i":0.154},{"s":11,"t":0.511,"i":0.134},{"s":11,"t":0.523,"i":0.142},{"s":11,"t":0.535,"i":0.146},{"s":11,"t":0.547,"i":0.131},{"s":11,"t":0.559,"i":0.151},{"s":11,"t":0.571,"i":0.139},{"s":11,"t":0.583,"i":0.147},{"s":11,"t":0.595,"i":0.155},{"s":11,"t":0.599,"i":0.135},{"s":11,"t":0.6002,"i":-0.02},
        {"s":11,"t":0.1095,"i":0.127},{"s":11,"t":0.121,"i":0.121},{"s":11,"t":0.133,"i":0.134},{"s":11,"t":0.145,"i":0.115},{"s":11,"t":0.157,"i":0.132},{"s":11,"t":0.169,"i":0.130},{"s":11,"t":0.181,"i":0.139},{"s":11,"t":0.193,"i":0.123},{"s":11,"t":0.205,"i":0.136},{"s":11,"t":0.217,"i":0.129},{"s":11,"t":0.229,"i":0.142},{"s":11,"t":0.241,"i":0.131},{"s":11,"t":0.253,"i":0.147},{"s":11,"t":0.265,"i":0.128},{"s":11,"t":0.277,"i":0.136},{"s":11,"t":0.289,"i":0.141},{"s":11,"t":0.301,"i":0.125},{"s":11,"t":0.313,"i":0.146},{"s":11,"t":0.325,"i":0.134},{"s":11,"t":0.337,"i":0.143},{"s":11,"t":0.349,"i":0.151},{"s":11,"t":0.361,"i":0.131},{"s":11,"t":0.373,"i":0.136},{"s":11,"t":0.385,"i":0.148},{"s":11,"t":0.397,"i":0.140},{"s":11,"t":0.409,"i":0.129},{"s":11,"t":0.421,"i":0.145},{"s":11,"t":0.433,"i":0.149},{"s":11,"t":0.445,"i":0.133},{"s":11,"t":0.457,"i":0.146},{"s":11,"t":0.469,"i":0.138},{"s":11,"t":0.481,"i":0.154},{"s":11,"t":0.493,"i":0.142},{"s":11,"t":0.505,"i":0.134},{"s":11,"t":0.517,"i":0.150},{"s":11,"t":0.529,"i":0.138},{"s":11,"t":0.541,"i":0.147},{"s":11,"t":0.553,"i":0.131},{"s":11,"t":0.565,"i":0.151},{"s":11,"t":0.577,"i":0.143},{"s":11,"t":0.589,"i":0.139},{"s":11,"t":0.597,"i":0.155},

        {"s":12,"t":0.1,"i":0},{"s":12,"t":0.1002,"i":0.11},{"s":12,"t":0.104,"i":0.108},{"s":12,"t":0.115,"i":0.092},{"s":12,"t":0.127,"i":0.104},{"s":12,"t":0.139,"i":0.096},{"s":12,"t":0.151,"i":0.112},{"s":12,"t":0.163,"i":0.100},{"s":12,"t":0.175,"i":0.092},{"s":12,"t":0.187,"i":0.108},{"s":12,"t":0.199,"i":0.098},{"s":12,"t":0.211,"i":0.106},{"s":12,"t":0.223,"i":0.090},{"s":12,"t":0.235,"i":0.110},{"s":12,"t":0.247,"i":0.102},{"s":12,"t":0.259,"i":0.098},{"s":12,"t":0.271,"i":0.114},{"s":12,"t":0.283,"i":0.094},{"s":12,"t":0.295,"i":0.108},{"s":12,"t":0.307,"i":0.100},{"s":12,"t":0.319,"i":0.112},{"s":12,"t":0.331,"i":0.092},{"s":12,"t":0.343,"i":0.108},{"s":12,"t":0.355,"i":0.104},{"s":12,"t":0.367,"i":0.112},{"s":12,"t":0.379,"i":0.096},{"s":12,"t":0.391,"i":0.110},{"s":12,"t":0.403,"i":0.102},{"s":12,"t":0.415,"i":0.114},{"s":12,"t":0.427,"i":0.102},{"s":12,"t":0.439,"i":0.118},{"s":12,"t":0.451,"i":0.098},{"s":12,"t":0.463,"i":0.106},{"s":12,"t":0.475,"i":0.110},{"s":12,"t":0.487,"i":0.094},{"s":12,"t":0.499,"i":0.114},{"s":12,"t":0.511,"i":0.103},{"s":12,"t":0.523,"i":0.111},{"s":12,"t":0.535,"i":0.119},{"s":12,"t":0.547,"i":0.099},{"s":12,"t":0.559,"i":0.103},{"s":12,"t":0.571,"i":0.115},{"s":12,"t":0.583,"i":0.107},{"s":12,"t":0.595,"i":0.095},{"s":12,"t":0.599,"i":0.111},{"s":12,"t":0.6002,"i":-0.02},
        {"s":12,"t":0.1095,"i":0.100},{"s":12,"t":0.121,"i":0.108},{"s":12,"t":0.133,"i":0.092},{"s":12,"t":0.145,"i":0.104},{"s":12,"t":0.157,"i":0.096},{"s":12,"t":0.169,"i":0.108},{"s":12,"t":0.181,"i":0.096},{"s":12,"t":0.193,"i":0.112},{"s":12,"t":0.205,"i":0.094},{"s":12,"t":0.217,"i":0.102},{"s":12,"t":0.229,"i":0.106},{"s":12,"t":0.241,"i":0.090},{"s":12,"t":0.253,"i":0.110},{"s":12,"t":0.265,"i":0.098},{"s":12,"t":0.277,"i":0.106},{"s":12,"t":0.289,"i":0.114},{"s":12,"t":0.301,"i":0.096},{"s":12,"t":0.313,"i":0.100},{"s":12,"t":0.325,"i":0.112},{"s":12,"t":0.337,"i":0.104},{"s":12,"t":0.349,"i":0.092},{"s":12,"t":0.361,"i":0.108},{"s":12,"t":0.373,"i":0.112},{"s":12,"t":0.385,"i":0.096},{"s":12,"t":0.397,"i":0.110},{"s":12,"t":0.409,"i":0.102},{"s":12,"t":0.421,"i":0.118},{"s":12,"t":0.433,"i":0.106},{"s":12,"t":0.445,"i":0.098},{"s":12,"t":0.457,"i":0.114},{"s":12,"t":0.469,"i":0.102},{"s":12,"t":0.481,"i":0.110},{"s":12,"t":0.493,"i":0.094},{"s":12,"t":0.505,"i":0.114},{"s":12,"t":0.517,"i":0.107},{"s":12,"t":0.529,"i":0.103},{"s":12,"t":0.541,"i":0.119},{"s":12,"t":0.553,"i":0.099},{"s":12,"t":0.565,"i":0.111},{"s":12,"t":0.577,"i":0.103},{"s":12,"t":0.589,"i":0.115},{"s":12,"t":0.597,"i":0.095},

        {"s":13,"t":0.1,"i":0},{"s":13,"t":0.1002,"i":0.09},{"s":13,"t":0.104,"i":0.080},{"s":13,"t":0.115,"i":0.072},{"s":13,"t":0.127,"i":0.088},{"s":13,"t":0.139,"i":0.076},{"s":13,"t":0.151,"i":0.084},{"s":13,"t":0.163,"i":0.068},{"s":13,"t":0.175,"i":0.088},{"s":13,"t":0.187,"i":0.080},{"s":13,"t":0.199,"i":0.076},{"s":13,"t":0.211,"i":0.092},{"s":13,"t":0.223,"i":0.072},{"s":13,"t":0.235,"i":0.084},{"s":13,"t":0.247,"i":0.076},{"s":13,"t":0.259,"i":0.088},{"s":13,"t":0.271,"i":0.070},{"s":13,"t":0.283,"i":0.086},{"s":13,"t":0.295,"i":0.082},{"s":13,"t":0.307,"i":0.090},{"s":13,"t":0.319,"i":0.074},{"s":13,"t":0.331,"i":0.086},{"s":13,"t":0.343,"i":0.078},{"s":13,"t":0.355,"i":0.090},{"s":13,"t":0.367,"i":0.078},{"s":13,"t":0.379,"i":0.094},{"s":13,"t":0.391,"i":0.074},{"s":13,"t":0.403,"i":0.082},{"s":13,"t":0.415,"i":0.086},{"s":13,"t":0.427,"i":0.070},{"s":13,"t":0.439,"i":0.092},{"s":13,"t":0.451,"i":0.080},{"s":13,"t":0.463,"i":0.088},{"s":13,"t":0.475,"i":0.096},{"s":13,"t":0.487,"i":0.076},{"s":13,"t":0.499,"i":0.080},{"s":13,"t":0.511,"i":0.092},{"s":13,"t":0.523,"i":0.084},{"s":13,"t":0.535,"i":0.072},{"s":13,"t":0.547,"i":0.088},{"s":13,"t":0.559,"i":0.092},{"s":13,"t":0.571,"i":0.076},{"s":13,"t":0.583,"i":0.088},{"s":13,"t":0.595,"i":0.080},{"s":13,"t":0.599,"i":0.096},{"s":13,"t":0.6002,"i":-0.02},
        {"s":13,"t":0.1095,"i":0.088},{"s":13,"t":0.121,"i":0.076},{"s":13,"t":0.133,"i":0.092},{"s":13,"t":0.145,"i":0.072},{"s":13,"t":0.157,"i":0.080},{"s":13,"t":0.169,"i":0.084},{"s":13,"t":0.181,"i":0.068},{"s":13,"t":0.193,"i":0.088},{"s":13,"t":0.205,"i":0.076},{"s":13,"t":0.217,"i":0.084},{"s":13,"t":0.229,"i":0.092},{"s":13,"t":0.241,"i":0.072},{"s":13,"t":0.253,"i":0.076},{"s":13,"t":0.265,"i":0.088},{"s":13,"t":0.277,"i":0.082},{"s":13,"t":0.289,"i":0.070},{"s":13,"t":0.301,"i":0.086},{"s":13,"t":0.313,"i":0.090},{"s":13,"t":0.325,"i":0.074},{"s":13,"t":0.337,"i":0.086},{"s":13,"t":0.349,"i":0.078},{"s":13,"t":0.361,"i":0.094},{"s":13,"t":0.373,"i":0.082},{"s":13,"t":0.385,"i":0.074},{"s":13,"t":0.397,"i":0.090},{"s":13,"t":0.409,"i":0.078},{"s":13,"t":0.421,"i":0.086},{"s":13,"t":0.433,"i":0.070},{"s":13,"t":0.445,"i":0.092},{"s":13,"t":0.457,"i":0.084},{"s":13,"t":0.469,"i":0.080},{"s":13,"t":0.481,"i":0.096},{"s":13,"t":0.493,"i":0.076},{"s":13,"t":0.505,"i":0.088},{"s":13,"t":0.517,"i":0.080},{"s":13,"t":0.529,"i":0.092},{"s":13,"t":0.541,"i":0.072},{"s":13,"t":0.553,"i":0.088},{"s":13,"t":0.565,"i":0.084},{"s":13,"t":0.577,"i":0.092},{"s":13,"t":0.589,"i":0.076},{"s":13,"t":0.597,"i":0.088},

        {"s":14,"t":0.1,"i":0},{"s":14,"t":0.1002,"i":0.065},{"s":14,"t":0.104,"i":0.048},{"s":14,"t":0.115,"i":0.068},{"s":14,"t":0.127,"i":0.060},{"s":14,"t":0.139,"i":0.056},{"s":14,"t":0.151,"i":0.072},{"s":14,"t":0.163,"i":0.052},{"s":14,"t":0.175,"i":0.064},{"s":14,"t":0.187,"i":0.056},{"s":14,"t":0.199,"i":0.068},{"s":14,"t":0.211,"i":0.048},{"s":14,"t":0.223,"i":0.064},{"s":14,"t":0.235,"i":0.060},{"s":14,"t":0.247,"i":0.068},{"s":14,"t":0.259,"i":0.052},{"s":14,"t":0.271,"i":0.064},{"s":14,"t":0.283,"i":0.056},{"s":14,"t":0.295,"i":0.068},{"s":14,"t":0.307,"i":0.056},{"s":14,"t":0.319,"i":0.072},{"s":14,"t":0.331,"i":0.052},{"s":14,"t":0.343,"i":0.062},{"s":14,"t":0.355,"i":0.066},{"s":14,"t":0.367,"i":0.050},{"s":14,"t":0.379,"i":0.070},{"s":14,"t":0.391,"i":0.058},{"s":14,"t":0.403,"i":0.066},{"s":14,"t":0.415,"i":0.074},{"s":14,"t":0.427,"i":0.054},{"s":14,"t":0.439,"i":0.058},{"s":14,"t":0.451,"i":0.070},{"s":14,"t":0.463,"i":0.062},{"s":14,"t":0.475,"i":0.050},{"s":14,"t":0.487,"i":0.066},{"s":14,"t":0.499,"i":0.070},{"s":14,"t":0.511,"i":0.054},{"s":14,"t":0.523,"i":0.066},{"s":14,"t":0.535,"i":0.058},{"s":14,"t":0.547,"i":0.074},{"s":14,"t":0.559,"i":0.062},{"s":14,"t":0.571,"i":0.054},{"s":14,"t":0.583,"i":0.070},{"s":14,"t":0.595,"i":0.058},{"s":14,"t":0.599,"i":0.066},{"s":14,"t":0.6002,"i":-0.02},
        {"s":14,"t":0.1095,"i":0.064},{"s":14,"t":0.121,"i":0.048},{"s":14,"t":0.133,"i":0.068},{"s":14,"t":0.145,"i":0.056},{"s":14,"t":0.157,"i":0.064},{"s":14,"t":0.169,"i":0.072},{"s":14,"t":0.181,"i":0.052},{"s":14,"t":0.193,"i":0.056},{"s":14,"t":0.205,"i":0.068},{"s":14,"t":0.217,"i":0.060},{"s":14,"t":0.229,"i":0.048},{"s":14,"t":0.241,"i":0.064},{"s":14,"t":0.253,"i":0.068},{"s":14,"t":0.265,"i":0.052},{"s":14,"t":0.277,"i":0.064},{"s":14,"t":0.289,"i":0.056},{"s":14,"t":0.301,"i":0.072},{"s":14,"t":0.313,"i":0.060},{"s":14,"t":0.325,"i":0.052},{"s":14,"t":0.337,"i":0.068},{"s":14,"t":0.349,"i":0.058},{"s":14,"t":0.361,"i":0.066},{"s":14,"t":0.373,"i":0.050},{"s":14,"t":0.385,"i":0.070},{"s":14,"t":0.397,"i":0.062},{"s":14,"t":0.409,"i":0.058},{"s":14,"t":0.421,"i":0.074},{"s":14,"t":0.433,"i":0.054},{"s":14,"t":0.445,"i":0.066},{"s":14,"t":0.457,"i":0.058},{"s":14,"t":0.469,"i":0.070},{"s":14,"t":0.481,"i":0.050},{"s":14,"t":0.493,"i":0.066},{"s":14,"t":0.505,"i":0.062},{"s":14,"t":0.517,"i":0.070},{"s":14,"t":0.529,"i":0.054},{"s":14,"t":0.541,"i":0.066},{"s":14,"t":0.553,"i":0.058},{"s":14,"t":0.565,"i":0.070},{"s":14,"t":0.577,"i":0.058},{"s":14,"t":0.589,"i":0.074},{"s":14,"t":0.597,"i":0.054},

        {"s":15,"t":0.1,"i":0},{"s":15,"t":0.1002,"i":0.045},{"s":15,"t":0.104,"i":0.032},{"s":15,"t":0.115,"i":0.044},{"s":15,"t":0.127,"i":0.036},{"s":15,"t":0.139,"i":0.048},{"s":15,"t":0.151,"i":0.028},{"s":15,"t":0.163,"i":0.044},{"s":15,"t":0.175,"i":0.040},{"s":15,"t":0.187,"i":0.048},{"s":15,"t":0.199,"i":0.032},{"s":15,"t":0.211,"i":0.044},{"s":15,"t":0.223,"i":0.036},{"s":15,"t":0.235,"i":0.048},{"s":15,"t":0.247,"i":0.036},{"s":15,"t":0.259,"i":0.052},{"s":15,"t":0.271,"i":0.032},{"s":15,"t":0.283,"i":0.040},{"s":15,"t":0.295,"i":0.044},{"s":15,"t":0.307,"i":0.028},{"s":15,"t":0.319,"i":0.048},{"s":15,"t":0.331,"i":0.036},{"s":15,"t":0.343,"i":0.047},{"s":15,"t":0.355,"i":0.055},{"s":15,"t":0.367,"i":0.035},{"s":15,"t":0.379,"i":0.039},{"s":15,"t":0.391,"i":0.051},{"s":15,"t":0.403,"i":0.043},{"s":15,"t":0.415,"i":0.031},{"s":15,"t":0.427,"i":0.047},{"s":15,"t":0.439,"i":0.051},{"s":15,"t":0.451,"i":0.035},{"s":15,"t":0.463,"i":0.047},{"s":15,"t":0.475,"i":0.039},{"s":15,"t":0.487,"i":0.055},{"s":15,"t":0.499,"i":0.043},{"s":15,"t":0.511,"i":0.035},{"s":15,"t":0.523,"i":0.051},{"s":15,"t":0.535,"i":0.039},{"s":15,"t":0.547,"i":0.047},{"s":15,"t":0.559,"i":0.031},{"s":15,"t":0.571,"i":0.051},{"s":15,"t":0.583,"i":0.043},{"s":15,"t":0.595,"i":0.039},{"s":15,"t":0.599,"i":0.055},{"s":15,"t":0.6002,"i":-0.02},
        {"s":15,"t":0.1095,"i":0.052},{"s":15,"t":0.121,"i":0.032},{"s":15,"t":0.133,"i":0.036},{"s":15,"t":0.145,"i":0.048},{"s":15,"t":0.157,"i":0.040},{"s":15,"t":0.169,"i":0.028},{"s":15,"t":0.181,"i":0.044},{"s":15,"t":0.193,"i":0.048},{"s":15,"t":0.205,"i":0.032},{"s":15,"t":0.217,"i":0.044},{"s":15,"t":0.229,"i":0.036},{"s":15,"t":0.241,"i":0.052},{"s":15,"t":0.253,"i":0.040},{"s":15,"t":0.265,"i":0.032},{"s":15,"t":0.277,"i":0.048},{"s":15,"t":0.289,"i":0.036},{"s":15,"t":0.301,"i":0.044},{"s":15,"t":0.313,"i":0.028},{"s":15,"t":0.325,"i":0.048},{"s":15,"t":0.337,"i":0.040},{"s":15,"t":0.349,"i":0.039},{"s":15,"t":0.361,"i":0.055},{"s":15,"t":0.373,"i":0.035},{"s":15,"t":0.385,"i":0.047},{"s":15,"t":0.397,"i":0.039},{"s":15,"t":0.409,"i":0.051},{"s":15,"t":0.421,"i":0.031},{"s":15,"t":0.433,"i":0.047},{"s":15,"t":0.445,"i":0.043},{"s":15,"t":0.457,"i":0.051},{"s":15,"t":0.469,"i":0.035},{"s":15,"t":0.481,"i":0.047},{"s":15,"t":0.493,"i":0.039},{"s":15,"t":0.505,"i":0.051},{"s":15,"t":0.517,"i":0.039},{"s":15,"t":0.529,"i":0.055},{"s":15,"t":0.541,"i":0.035},{"s":15,"t":0.553,"i":0.043},{"s":15,"t":0.565,"i":0.047},{"s":15,"t":0.577,"i":0.031},{"s":15,"t":0.589,"i":0.051},{"s":15,"t":0.597,"i":0.039},

        {"s":16,"t":0.1,"i":0},{"s":16,"t":0.1002,"i":0.03},{"s":16,"t":0.104,"i":0.026},{"s":16,"t":0.115,"i":0.022},{"s":16,"t":0.127,"i":0.030},{"s":16,"t":0.139,"i":0.014},{"s":16,"t":0.151,"i":0.026},{"s":16,"t":0.163,"i":0.018},{"s":16,"t":0.175,"i":0.030},{"s":16,"t":0.187,"i":0.018},{"s":16,"t":0.199,"i":0.034},{"s":16,"t":0.211,"i":0.014},{"s":16,"t":0.223,"i":0.022},{"s":16,"t":0.235,"i":0.026},{"s":16,"t":0.247,"i":0.010},{"s":16,"t":0.259,"i":0.030},{"s":16,"t":0.271,"i":0.018},{"s":16,"t":0.283,"i":0.026},{"s":16,"t":0.295,"i":0.034},{"s":16,"t":0.307,"i":0.014},{"s":16,"t":0.319,"i":0.018},{"s":16,"t":0.331,"i":0.030},{"s":16,"t":0.343,"i":0.022},{"s":16,"t":0.355,"i":0.010},{"s":16,"t":0.367,"i":0.026},{"s":16,"t":0.379,"i":0.030},{"s":16,"t":0.391,"i":0.014},{"s":16,"t":0.403,"i":0.026},{"s":16,"t":0.415,"i":0.018},{"s":16,"t":0.427,"i":0.034},{"s":16,"t":0.439,"i":0.022},{"s":16,"t":0.451,"i":0.014},{"s":16,"t":0.463,"i":0.030},{"s":16,"t":0.475,"i":0.018},{"s":16,"t":0.487,"i":0.026},{"s":16,"t":0.499,"i":0.010},{"s":16,"t":0.511,"i":0.030},{"s":16,"t":0.523,"i":0.022},{"s":16,"t":0.535,"i":0.018},{"s":16,"t":0.547,"i":0.034},{"s":16,"t":0.559,"i":0.014},{"s":16,"t":0.571,"i":0.026},{"s":16,"t":0.583,"i":0.018},{"s":16,"t":0.595,"i":0.030},{"s":16,"t":0.599,"i":0.010},{"s":16,"t":0.6002,"i":-0.02},
        {"s":16,"t":0.1095,"i":0.010},{"s":16,"t":0.121,"i":0.026},{"s":16,"t":0.133,"i":0.030},{"s":16,"t":0.145,"i":0.014},{"s":16,"t":0.157,"i":0.026},{"s":16,"t":0.169,"i":0.018},{"s":16,"t":0.181,"i":0.034},{"s":16,"t":0.193,"i":0.022},{"s":16,"t":0.205,"i":0.014},{"s":16,"t":0.217,"i":0.030},{"s":16,"t":0.229,"i":0.018},{"s":16,"t":0.241,"i":0.026},{"s":16,"t":0.253,"i":0.010},{"s":16,"t":0.265,"i":0.030},{"s":16,"t":0.277,"i":0.022},{"s":16,"t":0.289,"i":0.018},{"s":16,"t":0.301,"i":0.034},{"s":16,"t":0.313,"i":0.014},{"s":16,"t":0.325,"i":0.026},{"s":16,"t":0.337,"i":0.018},{"s":16,"t":0.349,"i":0.030},{"s":16,"t":0.361,"i":0.010},{"s":16,"t":0.373,"i":0.026},{"s":16,"t":0.385,"i":0.022},{"s":16,"t":0.397,"i":0.030},{"s":16,"t":0.409,"i":0.014},{"s":16,"t":0.421,"i":0.026},{"s":16,"t":0.433,"i":0.018},{"s":16,"t":0.445,"i":0.030},{"s":16,"t":0.457,"i":0.018},{"s":16,"t":0.469,"i":0.034},{"s":16,"t":0.481,"i":0.014},{"s":16,"t":0.493,"i":0.022},{"s":16,"t":0.505,"i":0.026},{"s":16,"t":0.517,"i":0.010},{"s":16,"t":0.529,"i":0.030},{"s":16,"t":0.541,"i":0.018},{"s":16,"t":0.553,"i":0.026},{"s":16,"t":0.565,"i":0.034},{"s":16,"t":0.577,"i":0.014},{"s":16,"t":0.589,"i":0.018},{"s":16,"t":0.597,"i":0.030},

        {"s":17,"t":0.1,"i":0},{"s":17,"t":0.1002,"i":0.0},{"s":17,"t":0.104,"i":-0.010},{"s":17,"t":0.115,"i":0.002},{"s":17,"t":0.127,"i":-0.010},{"s":17,"t":0.139,"i":0.006},{"s":17,"t":0.151,"i":-0.014},{"s":17,"t":0.163,"i":-0.006},{"s":17,"t":0.175,"i":-0.002},{"s":17,"t":0.187,"i":-0.018},{"s":17,"t":0.199,"i":0.002},{"s":17,"t":0.211,"i":-0.010},{"s":17,"t":0.223,"i":-0.002},{"s":17,"t":0.235,"i":0.006},{"s":17,"t":0.247,"i":-0.014},{"s":17,"t":0.259,"i":-0.010},{"s":17,"t":0.271,"i":0.002},{"s":17,"t":0.283,"i":-0.006},{"s":17,"t":0.295,"i":-0.018},{"s":17,"t":0.307,"i":-0.002},{"s":17,"t":0.319,"i":0.002},{"s":17,"t":0.331,"i":-0.014},{"s":17,"t":0.343,"i":-0.002},{"s":17,"t":0.355,"i":-0.010},{"s":17,"t":0.367,"i":0.006},{"s":17,"t":0.379,"i":-0.006},{"s":17,"t":0.391,"i":-0.014},{"s":17,"t":0.403,"i":0.002},{"s":17,"t":0.415,"i":-0.010},{"s":17,"t":0.427,"i":-0.002},{"s":17,"t":0.439,"i":-0.018},{"s":17,"t":0.451,"i":0.002},{"s":17,"t":0.463,"i":-0.006},{"s":17,"t":0.475,"i":-0.010},{"s":17,"t":0.487,"i":0.006},{"s":17,"t":0.499,"i":-0.014},{"s":17,"t":0.511,"i":-0.002},{"s":17,"t":0.523,"i":-0.010},{"s":17,"t":0.535,"i":0.002},{"s":17,"t":0.547,"i":-0.018},{"s":17,"t":0.559,"i":-0.002},{"s":17,"t":0.571,"i":-0.006},{"s":17,"t":0.583,"i":0.002},{"s":17,"t":0.595,"i":-0.014},{"s":17,"t":0.599,"i":-0.002},{"s":17,"t":0.6002,"i":-0.02},
        {"s":17,"t":0.1095,"i":-0.010},{"s":17,"t":0.121,"i":0.006},{"s":17,"t":0.133,"i":-0.006},{"s":17,"t":0.145,"i":-0.014},{"s":17,"t":0.157,"i":0.002},{"s":17,"t":0.169,"i":-0.010},{"s":17,"t":0.181,"i":-0.002},{"s":17,"t":0.193,"i":-0.018},{"s":17,"t":0.205,"i":0.002},{"s":17,"t":0.217,"i":-0.006},{"s":17,"t":0.229,"i":-0.010},{"s":17,"t":0.241,"i":0.006},{"s":17,"t":0.253,"i":-0.014},{"s":17,"t":0.265,"i":-0.002},{"s":17,"t":0.277,"i":-0.010},{"s":17,"t":0.289,"i":0.002},{"s":17,"t":0.301,"i":-0.018},{"s":17,"t":0.313,"i":-0.002},{"s":17,"t":0.325,"i":-0.006},{"s":17,"t":0.337,"i":0.002},{"s":17,"t":0.349,"i":-0.014},{"s":17,"t":0.361,"i":-0.002},{"s":17,"t":0.373,"i":-0.010},{"s":17,"t":0.385,"i":0.002},{"s":17,"t":0.397,"i":-0.010},{"s":17,"t":0.409,"i":0.006},{"s":17,"t":0.421,"i":-0.014},{"s":17,"t":0.433,"i":-0.006},{"s":17,"t":0.445,"i":-0.002},{"s":17,"t":0.457,"i":-0.018},{"s":17,"t":0.469,"i":0.002},{"s":17,"t":0.481,"i":-0.010},{"s":17,"t":0.493,"i":-0.002},{"s":17,"t":0.505,"i":0.006},{"s":17,"t":0.517,"i":-0.014},{"s":17,"t":0.529,"i":-0.010},{"s":17,"t":0.541,"i":0.002},{"s":17,"t":0.553,"i":-0.006},{"s":17,"t":0.565,"i":-0.018},{"s":17,"t":0.577,"i":-0.002},{"s":17,"t":0.589,"i":0.002},{"s":17,"t":0.597,"i":-0.014},

        {"s":18,"t":0.1,"i":0},{"s":18,"t":0.1002,"i":-0.02},{"s":18,"t":0.104,"i":-0.031},{"s":18,"t":0.115,"i":-0.027},{"s":18,"t":0.127,"i":-0.043},{"s":18,"t":0.139,"i":-0.023},{"s":18,"t":0.151,"i":-0.035},{"s":18,"t":0.163,"i":-0.027},{"s":18,"t":0.175,"i":-0.019},{"s":18,"t":0.187,"i":-0.039},{"s":18,"t":0.199,"i":-0.035},{"s":18,"t":0.211,"i":-0.023},{"s":18,"t":0.223,"i":-0.031},{"s":18,"t":0.235,"i":-0.043},{"s":18,"t":0.247,"i":-0.027},{"s":18,"t":0.259,"i":-0.023},{"s":18,"t":0.271,"i":-0.039},{"s":18,"t":0.283,"i":-0.027},{"s":18,"t":0.295,"i":-0.035},{"s":18,"t":0.307,"i":-0.019},{"s":18,"t":0.319,"i":-0.031},{"s":18,"t":0.331,"i":-0.039},{"s":18,"t":0.343,"i":-0.023},{"s":18,"t":0.355,"i":-0.035},{"s":18,"t":0.367,"i":-0.027},{"s":18,"t":0.379,"i":-0.043},{"s":18,"t":0.391,"i":-0.023},{"s":18,"t":0.403,"i":-0.031},{"s":18,"t":0.415,"i":-0.035},{"s":18,"t":0.427,"i":-0.019},{"s":18,"t":0.439,"i":-0.039},{"s":18,"t":0.451,"i":-0.027},{"s":18,"t":0.463,"i":-0.035},{"s":18,"t":0.475,"i":-0.023},{"s":18,"t":0.487,"i":-0.043},{"s":18,"t":0.499,"i":-0.027},{"s":18,"t":0.511,"i":-0.031},{"s":18,"t":0.523,"i":-0.023},{"s":18,"t":0.535,"i":-0.039},{"s":18,"t":0.547,"i":-0.027},{"s":18,"t":0.559,"i":-0.035},{"s":18,"t":0.571,"i":-0.023},{"s":18,"t":0.583,"i":-0.035},{"s":18,"t":0.595,"i":-0.019},{"s":18,"t":0.599,"i":-0.039},{"s":18,"t":0.6002,"i":-0.02},
        {"s":18,"t":0.1095,"i":-0.035},{"s":18,"t":0.121,"i":-0.027},{"s":18,"t":0.133,"i":-0.043},{"s":18,"t":0.145,"i":-0.023},{"s":18,"t":0.157,"i":-0.031},{"s":18,"t":0.169,"i":-0.035},{"s":18,"t":0.181,"i":-0.019},{"s":18,"t":0.193,"i":-0.039},{"s":18,"t":0.205,"i":-0.027},{"s":18,"t":0.217,"i":-0.035},{"s":18,"t":0.229,"i":-0.023},{"s":18,"t":0.241,"i":-0.043},{"s":18,"t":0.253,"i":-0.027},{"s":18,"t":0.265,"i":-0.031},{"s":18,"t":0.277,"i":-0.023},{"s":18,"t":0.289,"i":-0.039},{"s":18,"t":0.301,"i":-0.027},{"s":18,"t":0.313,"i":-0.035},{"s":18,"t":0.325,"i":-0.023},{"s":18,"t":0.337,"i":-0.035},{"s":18,"t":0.349,"i":-0.019},{"s":18,"t":0.361,"i":-0.039},{"s":18,"t":0.373,"i":-0.031},{"s":18,"t":0.385,"i":-0.027},{"s":18,"t":0.397,"i":-0.043},{"s":18,"t":0.409,"i":-0.023},{"s":18,"t":0.421,"i":-0.035},{"s":18,"t":0.433,"i":-0.027},{"s":18,"t":0.445,"i":-0.019},{"s":18,"t":0.457,"i":-0.039},{"s":18,"t":0.469,"i":-0.035},{"s":18,"t":0.481,"i":-0.023},{"s":18,"t":0.493,"i":-0.031},{"s":18,"t":0.505,"i":-0.043},{"s":18,"t":0.517,"i":-0.027},{"s":18,"t":0.529,"i":-0.023},{"s":18,"t":0.541,"i":-0.039},{"s":18,"t":0.553,"i":-0.027},{"s":18,"t":0.565,"i":-0.035},{"s":18,"t":0.577,"i":-0.019},{"s":18,"t":0.589,"i":-0.031},{"s":18,"t":0.597,"i":-0.039},

        {"s":19,"t":0.6002,"i":-0.085},{"s":19,"t":0.6008,"i":-0.050},{"s":19,"t":0.6015,"i":-0.070},{"s":19,"t":0.602,"i":-0.030},{"s":19,"t":0.603,"i":-0.050},{"s":19,"t":0.604,"i":-0.010},{"s":19,"t":0.606,"i":-0.034},{"s":19,"t":0.608,"i":0.004},{"s":19,"t":0.610,"i":-0.028},{"s":19,"t":0.612,"i":0.006},{"s":19,"t":0.614,"i":-0.024},{"s":19,"t":0.616,"i":0.008},{"s":19,"t":0.618,"i":-0.022},{"s":19,"t":0.620,"i":0.004},{"s":19,"t":0.622,"i":-0.026},{"s":19,"t":0.624,"i":0.008},{"s":19,"t":0.626,"i":-0.020},{"s":19,"t":0.628,"i":0.006},{"s":19,"t":0.630,"i":-0.024},{"s":19,"t":0.632,"i":0.010},{"s":19,"t":0.634,"i":-0.020},{"s":19,"t":0.636,"i":0.004},{"s":19,"t":0.638,"i":-0.022},{"s":19,"t":0.640,"i":0.008},{"s":19,"t":0.642,"i":-0.018},{"s":19,"t":0.644,"i":0.006},{"s":19,"t":0.646,"i":-0.024},{"s":19,"t":0.648,"i":0.010},{"s":19,"t":0.650,"i":-0.020},{"s":19,"t":0.652,"i":0.004},{"s":19,"t":0.654,"i":-0.022},{"s":19,"t":0.656,"i":0.008},{"s":19,"t":0.658,"i":-0.018},{"s":19,"t":0.660,"i":0.010},{"s":19,"t":0.662,"i":-0.020},{"s":19,"t":0.664,"i":0.006},{"s":19,"t":0.666,"i":-0.022},{"s":19,"t":0.668,"i":0.008},{"s":19,"t":0.670,"i":-0.018},{"s":19,"t":0.672,"i":0.012},{"s":19,"t":0.674,"i":-0.020},{"s":19,"t":0.676,"i":0.006},{"s":19,"t":0.678,"i":-0.022},{"s":19,"t":0.680,"i":0.010},{"s":19,"t":0.682,"i":-0.018},{"s":19,"t":0.684,"i":0.008},{"s":19,"t":0.686,"i":-0.020},{"s":19,"t":0.688,"i":0.012},{"s":19,"t":0.690,"i":-0.016},{"s":19,"t":0.692,"i":0.010},{"s":19,"t":0.694,"i":-0.020},{"s":19,"t":0.696,"i":0.012},{"s":19,"t":0.698,"i":-0.012},
        {"s":19,"t":0.607,"i":-0.012},{"s":19,"t":0.609,"i":-0.002},{"s":19,"t":0.611,"i":0.002},{"s":19,"t":0.613,"i":-0.016},{"s":19,"t":0.615,"i":-0.004},{"s":19,"t":0.617,"i":-0.018},{"s":19,"t":0.619,"i":0.000},{"s":19,"t":0.621,"i":-0.014},{"s":19,"t":0.623,"i":-0.006},{"s":19,"t":0.625,"i":0.002},{"s":19,"t":0.627,"i":-0.016},{"s":19,"t":0.629,"i":-0.002},{"s":19,"t":0.631,"i":-0.010},{"s":19,"t":0.633,"i":0.004},{"s":19,"t":0.635,"i":-0.014},{"s":19,"t":0.637,"i":-0.004},{"s":19,"t":0.639,"i":0.002},{"s":19,"t":0.641,"i":-0.018},{"s":19,"t":0.643,"i":-0.006},{"s":19,"t":0.645,"i":0.000},{"s":19,"t":0.647,"i":-0.014},{"s":19,"t":0.649,"i":-0.002},{"s":19,"t":0.651,"i":0.004},{"s":19,"t":0.653,"i":-0.012},{"s":19,"t":0.655,"i":-0.008},{"s":19,"t":0.657,"i":0.002},{"s":19,"t":0.659,"i":-0.016},{"s":19,"t":0.661,"i":-0.004},{"s":19,"t":0.663,"i":0.000},{"s":19,"t":0.665,"i":-0.012},{"s":19,"t":0.667,"i":0.004},{"s":19,"t":0.669,"i":-0.008},{"s":19,"t":0.671,"i":-0.016},{"s":19,"t":0.673,"i":0.002},{"s":19,"t":0.675,"i":-0.010},{"s":19,"t":0.677,"i":-0.002},{"s":19,"t":0.679,"i":0.006},{"s":19,"t":0.681,"i":-0.014},{"s":19,"t":0.683,"i":-0.004},{"s":19,"t":0.685,"i":0.002},{"s":19,"t":0.687,"i":-0.012},{"s":19,"t":0.689,"i":-0.006},{"s":19,"t":0.691,"i":0.004},{"s":19,"t":0.693,"i":-0.010},{"s":19,"t":0.695,"i":-0.002},{"s":19,"t":0.697,"i":0.006}
      ]},
      "mark": {"type": "line", "color": "#0000ff", "strokeWidth": 1.8, "strokeJoin": "round"},
      "encoding": {
        "detail": {"field": "s", "type": "nominal"}
      }
    },
    {
      "data": {"values": [{"t": 0.1, "i": -0.122}, {"t": 0.35, "i": -0.122}, {"t": 0.6, "i": -0.122}]},
      "mark": {"type": "tick", "orient": "vertical", "size": 16, "thickness": 1.2, "color": "#262626", "opacity": 1, "clip": true}
    },
    {
      "data": {"values": [{"t": -0.026, "i": 0}, {"t": -0.026, "i": 0.4}, {"t": -0.026, "i": 0.8}]},
      "mark": {"type": "tick", "orient": "horizontal", "size": 16, "thickness": 1.2, "color": "#262626", "opacity": 1, "clip": true}
    },
    {
      "data": {"values": [{"t": 0.0115, "i": 0.887, "label": "Kv7.1\u00a0 Rat\u00a0 CHO\u00a0 15 °C"}]},
      "mark": {"type": "text", "align": "left", "baseline": "alphabetic", "fontSize": 22, "fontWeight": "bold", "font": "DejaVu Sans", "color": "#000000"},
      "encoding": {"text": {"field": "label"}}
    },
    {
      "data": {"values": [{"t": 0.7076, "i": 0.887, "label": "Activation"}]},
      "mark": {"type": "text", "align": "right", "baseline": "alphabetic", "fontSize": 22, "font": "DejaVu Sans", "color": "#000000"},
      "encoding": {"text": {"field": "label"}}
    },
    {
      "data": {"values": [{"t": 0.728, "i": 0.38, "label": "BBP Channelpedia ID 8635 rep 3"}]},
      "mark": {"type": "text", "align": "center", "baseline": "alphabetic", "angle": 270, "fontSize": 22, "font": "DejaVu Sans", "color": "#000000"},
      "encoding": {"text": {"field": "label"}}
    }
  ],
  "config": {
    "view": {"stroke": null},
    "font": "DejaVu Sans",
    "axis": {
      "grid": false,
      "domainColor": "#262626",
      "domainWidth": 1.2,
      "tickColor": "#262626",
      "tickWidth": 1.2,
      "tickSize": -8,
      "labelColor": "#262626",
      "labelFont": "DejaVu Sans",
      "labelFontSize": 31,
      "titleColor": "#262626",
      "titleFont": "DejaVu Sans",
      "titleFontSize": 32,
      "titleFontWeight": "normal"
    }
  }
}
